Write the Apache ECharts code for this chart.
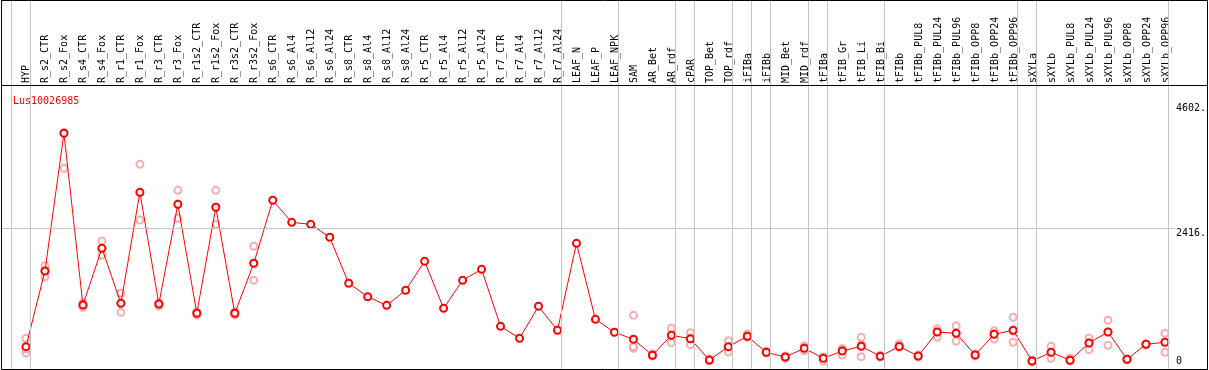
<!DOCTYPE html>
<html>
<head>
<meta charset="utf-8">
<script src="https://cdn.jsdelivr.net/npm/echarts@6/dist/echarts.min.js"></script>
<style>
  html, body { margin: 0; padding: 0; background: #fff; }
  #chart { width: 1209px; height: 370px; }
</style>
</head>
<body>
<div id="chart"></div>
<script>
const geneId = 'Lus10026985';
const categories = [
  'HYP', 'R_s2_CTR', 'R_s2_Fox', 'R_s4_CTR', 'R_s4_Fox', 'R_r1_CTR', 'R_r1_Fox', 'R_r3_CTR', 'R_r3_Fox',
  'R_r1s2_CTR', 'R_r1s2_Fox', 'R_r3s2_CTR', 'R_r3s2_Fox', 'R_s6_CTR', 'R_s6_Al4', 'R_s6_Al12', 'R_s6_Al24',
  'R_s8_CTR', 'R_s8_Al4', 'R_s8_Al12', 'R_s8_Al24', 'R_r5_CTR', 'R_r5_Al4', 'R_r5_Al12', 'R_r5_Al24',
  'R_r7_CTR', 'R_r7_Al4', 'R_r7_Al12', 'R_r7_Al24', 'LEAF_N', 'LEAF_P', 'LEAF_NPK', 'SAM', 'AR_Bet', 'AR_rdf',
  'cPAR', 'TOP_Bet', 'TOP_rdf', 'iFIBa', 'iFIBb', 'MID_Bet', 'MID_rdf', 'tFIBa', 'tFIB_Gr', 'tFIB_Li', 'tFIB_Bi',
  'tFIBb', 'tFIBb_PUL8', 'tFIBb_PUL24', 'tFIBb_PUL96', 'tFIBb_OPP8', 'tFIBb_OPP24', 'tFIBb_OPP96',
  'sXYLa', 'sXYLb', 'sXYLb_PUL8', 'sXYLb_PUL24', 'sXYLb_PUL96', 'sXYLb_OPP8', 'sXYLb_OPP24', 'sXYLb_OPP96'
];
// mean expression per sample
const meanVals = [
  347, 1667, 4067, 1074, 2062, 1103, 3038, 1091, 2829, 929, 2777, 929, 1801,
  2899, 2515, 2480, 2254, 1452, 1218, 1068, 1330, 1835, 1016, 1504, 1696, 702, 493, 1051, 633,
  2149, 824, 598, 476, 197, 546, 486, 115, 347, 528, 249, 167, 319, 145, 272, 354, 180,
  350, 185, 603, 580, 202, 563, 633, 98, 249, 110, 411, 603, 127, 389, 424
];
// replicates
const rep1 = [
  493, 1759, 4080, 1109, 2189, 1278, 3526, 1108, 3073, 952, 3073, 952, 2097,
  null, null, null, null, null, null, null, null, null, null, null, null, null, null, null, null,
  null, null, null, 894, 220, 668, 591, 132, 451, 568, 263, 185, 359, 167, 312, 511, 193,
  394, 202, 661, 713, 220, 626, 859, 115, 354, 150, 498, 807, 132, 394, 580
];
const rep2 = [
  237, 1567, 3456, 1034, 1945, 946, 2555, 1056, 2585, 899, 2480, 899, 1504,
  null, null, null, null, null, null, null, null, null, null, null, null, null, null, null, null,
  null, null, null, 319, 185, 417, 382, 98, 254, 511, 237, 150, 277, 98, 202, 173, 167,
  336, 167, 511, 446, 185, 481, 424, 80, 145, 98, 295, 371, 115, 376, 249
];
const rep3 = [
  307, 1667, null, 1074, 2062, 1108, 3040, 1091, 2834, 934, 2782, 934, 1806,
  null, null, null, null, null, null, null, null, null, null, null, null, null, null, null, null,
  null, null, null, 347, 202, 551, 486, 115, 342, 533, 254, 167, 324, 150, 289, 376, 185,
  350, 185, 603, 586, 202, 577, 621, 98, 254, 115, 411, 603, 124, 394, 429
];
// last sample index of each tissue group (separator lines)
const groupEnds = [-1, 0, 28, 31, 34, 35, 37, 38, 39, 41, 42, 45, 52, 53, 60];
const yTicks = [0, 2416, 4602];
const refLevel = 2416;

const MONO = '"DejaVu Sans Mono", monospace';
const xMin = -1.316, xMax = 62.21;
const yMin = -42, yMax = 6391;

const meanData = meanVals.map((v, i) => [i, v]);
const repData = [];
[rep1, rep2, rep3].forEach(r => r.forEach((v, i) => { if (v != null) repData.push([i, v]); }));

let myChart = echarts.init(document.getElementById('chart'));
let option = {
  animation: false,
  title: {
    text: geneId,
    left: 8,
    top: 91,
    textStyle: { color: '#ff0000', fontSize: 10, fontWeight: 'normal', fontFamily: MONO },
  },
  grid: [
    { left: 1, right: 1, top: 0, bottom: 1 },
    // strip for the sample names
    { left: 16.5, width: 1159, top: 85, height: 1 },
  ],
  xAxis: [
    { gridIndex: 0, type: 'value', min: xMin, max: xMax, show: false },
    {
      gridIndex: 1,
      type: 'category',
      data: categories,
      position: 'top',
      boundaryGap: true,
      axisLine: { show: false },
      axisTick: { show: false },
      axisLabel: { interval: 0, rotate: 90, margin: 2, fontFamily: MONO, fontSize: 10, color: '#000' },
    },
  ],
  yAxis: [
    {
      gridIndex: 0,
      type: 'value',
      min: yMin,
      max: yMax,
      position: 'right',
      axisLine: { show: false },
      axisTick: { show: false },
      splitLine: { show: false },
      axisLabel: {
        inside: true,
        align: 'left',
        margin: 31,
        verticalAlign: 'middle',
        customValues: yTicks,
        fontFamily: MONO,
        fontSize: 10,
        color: '#000',
        formatter: v => (v === 0 ? '{b|0}' : '{t|' + v + '.}'),
        rich: {
          t: { fontFamily: MONO, fontSize: 10, color: '#000', padding: [11, 0, 0, 0] },
          b: { fontFamily: MONO, fontSize: 10, color: '#000', padding: [0, 0, 11, 0] },
        },
      },
    },
    { gridIndex: 1, type: 'value', show: false, min: 0, max: 1 },
  ],
  graphic: [
    { type: 'rect', z: 100, shape: { x: 1.5, y: 0.5, width: 1206, height: 369 }, style: { fill: null, stroke: '#000', lineWidth: 1 } },
    { type: 'line', z: 100, shape: { x1: 1, y1: 85.5, x2: 1208, y2: 85.5 }, style: { stroke: '#000', lineWidth: 1 } },
  ],
  series: [
    {
      name: 'replicates',
      type: 'scatter',
      xAxisIndex: 0,
      yAxisIndex: 0,
      data: repData,
      symbol: 'emptyCircle',
      symbolSize: 7,
      itemStyle: { color: '#f29a9a', borderWidth: 1.4 },
      z: 2,
      markLine: {
        silent: true,
        symbol: ['none', 'none'],
        label: { show: false },
        lineStyle: { color: '#c4c4c4', width: 1, type: 'solid' },
        data: groupEnds.map(g => ({ xAxis: g + 0.2 })).concat([
          [{ coord: [xMin, refLevel] }, { coord: [60.55, refLevel] }],
        ]),
      },
    },
    {
      name: 'mean',
      type: 'line',
      xAxisIndex: 0,
      yAxisIndex: 0,
      data: meanData,
      symbol: 'emptyCircle',
      symbolSize: 7,
      lineStyle: { color: '#ff0000', width: 1 },
      itemStyle: { color: '#ff0000', borderWidth: 1.8 },
      z: 3,
    },
  ],
};
myChart.setOption(option);
</script>
</body>
</html>
